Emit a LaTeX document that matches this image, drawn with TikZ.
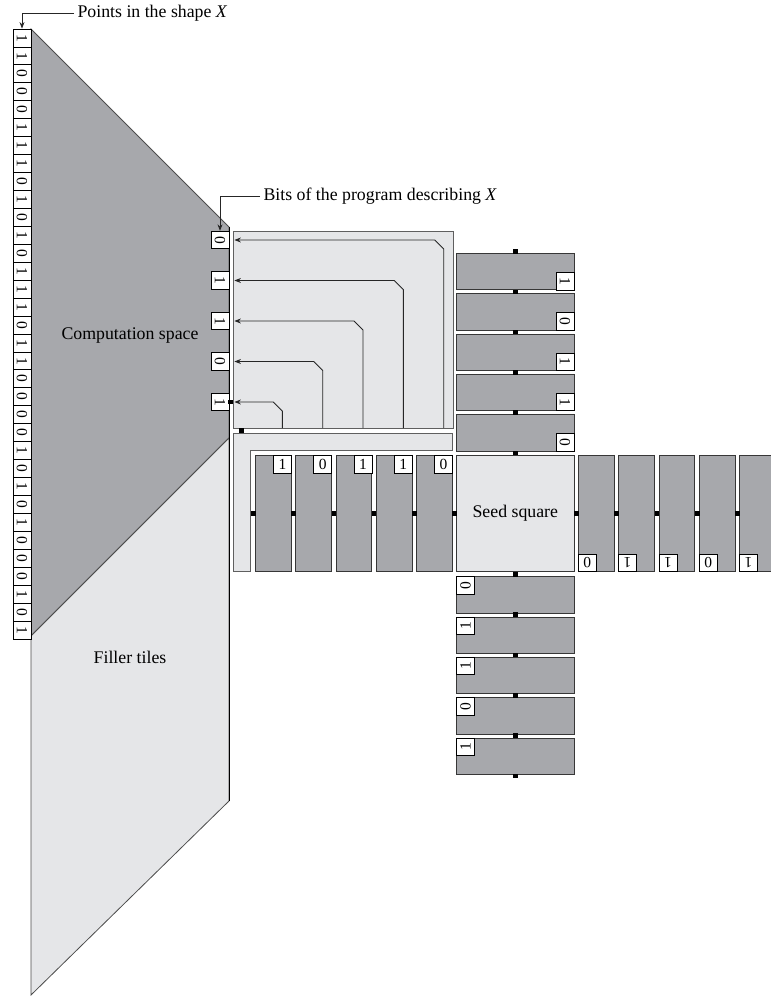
\documentclass[tikz,border=0pt]{standalone}
\usepackage{fontspec}
\setmainfont{Liberation Serif}
\usepackage{graphicx}
\usepackage{tikz}
\usetikzlibrary{arrows.meta}

\definecolor{tiledark}{RGB}{167,168,172}
\definecolor{panellight}{RGB}{229,230,232}
\definecolor{tileline}{RGB}{55,55,55}
\definecolor{panelline}{RGB}{95,95,95}

\begin{document}
\begin{tikzpicture}[
  x=1pt, y=-1pt,
  font=\fontsize{17.8}{21}\selectfont,
  tile/.style={draw=tileline, fill=tiledark, line width=0.9pt, inner sep=0},
  seed/.style={draw=tileline, fill=panellight, line width=0.9pt, inner sep=0, minimum width=117.3pt, minimum height=116pt},
  panel/.style={draw=panelline, fill=panellight, line width=0.8pt, inner sep=0},
  bitbox/.style={draw=black, fill=white, line width=0.8pt, minimum width=18pt, minimum height=17.5pt, inner sep=0, font=\fontsize{15.5}{16}\selectfont},
  colbit/.style={bitbox, minimum height=17.94pt},
  glue/.style={fill=black, minimum size=4.6pt, inner sep=0},
  arrow/.style={-{Stealth[length=6.5pt, width=5pt]}, line width=0.9pt, draw=black!85}
]
\useasboundingbox (0,0) rectangle (771,996);

% computation space and filler tiles
\filldraw[fill=tiledark, draw=black!70, line width=0.8pt] (31,29) -- (229,227) -- (229,438) -- (31,636) -- cycle;
\filldraw[fill=panellight, draw=black!70, line width=0.8pt] (31,636) -- (229,438) -- (229,801) -- (31,995) -- cycle;
\draw[line width=1pt] (229,227) -- (229,801);
\node (comp) at (130,335) {Computation space};
\node (filler) at (130,657) {Filler tiles};

% points of the shape
\foreach \b [count=\i] in {1,1,0,0,0,1,1,1,0,1,0,1,0,1,1,1,0,1,1,0,0,0,0,1,0,1,0,1,0,0,0,1,0,1}
  \node[colbit] (col\i) at (22,{29+17.94*(\i-0.5)}) {\rotatebox{-90}{\b}};

% program bits and the panel that copies them
\node[panel, minimum width=220pt, minimum height=197pt] (panel) at (343,329.5) {};
\foreach \b/\y [count=\i] in {0/240, 1/280.5, 1/321, 0/361.5, 1/402}
  \node[bitbox] (pb\i) at (220,\y) {\rotatebox{-90}{\b}};
\foreach \x/\y [count=\i] in {443.7/240, 403.3/280.5, 363/321, 322.7/361.5, 282.3/402} {
  \coordinate (foot\i) at (\x,428);
  \draw[arrow, shorten >=5pt] (foot\i) -- (\x,\y+9) -- (\x-9,\y) -- (pb\i.east);
}
\filldraw[draw=panelline, fill=panellight, line width=0.8pt] (233,433.3) -- (452.3,433.3) -- (452.3,450.7) -- (250.7,450.7) -- (250.7,571.7) -- (233,571.7) -- cycle;
\node[glue] (g0) at (230.6,402) {};
\node[glue] (g1) at (241.7,430.7) {};

% seed square and the four arms
\node[seed] (seedsq) at (515.3,513.7) {Seed square};
\foreach \b [count=\i] in {1,0,1,1,0} {
  \node[tile, minimum width=35.7pt, minimum height=116pt] (lt\i) at ({273.5+40.25*(\i-1)},513.7) {};
  \node[bitbox, anchor=north east] (lb\i) at (lt\i.north east) {\b};
}
\foreach \b [count=\i] in {1,0,1,1,0} {
  \node[tile, minimum width=117.3pt, minimum height=36.3pt] (tt\i) at (515.3,{271.7+40.3*(\i-1)}) {};
  \node[bitbox, anchor=south east] (tb\i) at (tt\i.south east) {\rotatebox{-90}{\b}};
}
\foreach \b [count=\i] in {0,1,1,0,1} {
  \node[tile, minimum width=35.7pt, minimum height=116pt] (rt\i) at ({596.2+40.3*(\i-1)},513.7) {};
  \node[bitbox, anchor=south west] (rb\i) at (rt\i.south west) {\rotatebox{180}{\b}};
}
\foreach \b [count=\i] in {0,1,1,0,1} {
  \node[tile, minimum width=117.3pt, minimum height=36.3pt] (bt\i) at (515.3,{594.9+40.3*(\i-1)}) {};
  \node[bitbox, anchor=north west] (bb\i) at (bt\i.north west) {\rotatebox{90}{\b}};
}

% glue between tiles
\foreach \i in {0,...,5} {
  \node[glue] (lg\i) at ({253.4+40.25*\i},513.7) {};
  \node[glue] (tg\i) at (515.3,{251.5+40.3*\i}) {};
  \node[glue] (bg\i) at (515.3,{574.3+40.3*\i}) {};
}
\foreach \i in {0,...,4}
  \node[glue] (rg\i) at ({576.4+40.3*\i},513.7) {};

% callouts
\node[anchor=west] (ptlabel) at (74,13) {Points in the shape \textit{X}};
\draw[arrow] (ptlabel.west) -| (col1.north);
\node[anchor=west] (bitlabel) at (260,196) {Bits of the program describing \textit{X}};
\draw[arrow] (bitlabel.west) -| (pb1.north);
\end{tikzpicture}
\end{document}
